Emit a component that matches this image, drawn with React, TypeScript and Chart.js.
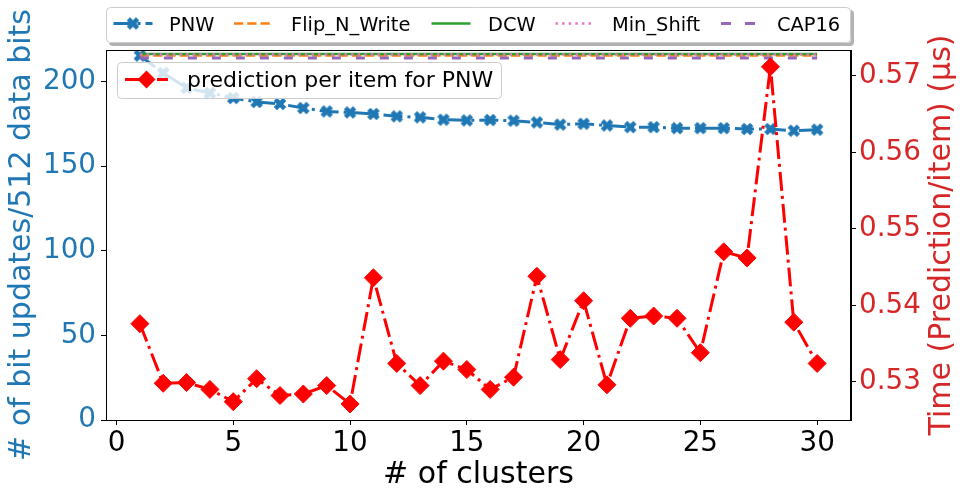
import React, { useEffect, useRef } from 'react';
import { Chart, registerables } from 'chart.js';

Chart.register(...registerables);

// ---------------- data ----------------
const clusters = [1, 2, 3, 4, 5, 6, 7, 8, 9, 10, 11, 12, 13, 14, 15, 16, 17, 18, 19, 20, 21, 22, 23, 24, 25, 26, 27, 28, 29, 30];
const pnw = [215.4, 205.1, 196.3, 193.3, 190.3, 188.0, 186.8, 184.4, 182.4, 181.8, 180.9, 179.5, 178.9, 177.5, 177.1, 177.3, 176.9, 175.9, 174.6, 175.1, 174.1, 173.1, 173.1, 172.5, 172.5, 172.5, 172.0, 172.0, 171.0, 171.6];
const flipNWrite = [215.4, 215.4, 215.4, 215.4, 215.4, 215.4, 215.4, 215.4, 215.4, 215.4, 215.4, 215.4, 215.4, 215.4, 215.4, 215.4, 215.4, 215.4, 215.4, 215.4, 215.4, 215.4, 215.4, 215.4, 215.4, 215.4, 215.4, 215.4, 215.4, 215.4];
const dcw = [216.4, 216.4, 216.4, 216.4, 216.4, 216.4, 216.4, 216.4, 216.4, 216.4, 216.4, 216.4, 216.4, 216.4, 216.4, 216.4, 216.4, 216.4, 216.4, 216.4, 216.4, 216.4, 216.4, 216.4, 216.4, 216.4, 216.4, 216.4, 216.4, 216.4];
const minShift = [216.0, 216.0, 216.0, 216.0, 216.0, 216.0, 216.0, 216.0, 216.0, 216.0, 216.0, 216.0, 216.0, 216.0, 216.0, 216.0, 216.0, 216.0, 216.0, 216.0, 216.0, 216.0, 216.0, 216.0, 216.0, 216.0, 216.0, 216.0, 216.0, 216.0];
const cap16 = [214.0, 214.0, 214.0, 214.0, 214.0, 214.0, 214.0, 214.0, 214.0, 214.0, 214.0, 214.0, 214.0, 214.0, 214.0, 214.0, 214.0, 214.0, 214.0, 214.0, 214.0, 214.0, 214.0, 214.0, 214.0, 214.0, 214.0, 214.0, 214.0, 214.0];
const predPerItem = [0.5376, 0.5298, 0.5299, 0.5290, 0.5274, 0.5304, 0.5282, 0.5284, 0.5295, 0.5271, 0.5436, 0.5324, 0.5295, 0.5327, 0.5316, 0.5290, 0.5306, 0.5438, 0.5329, 0.5406, 0.5296, 0.5383, 0.5386, 0.5383, 0.5338, 0.5470, 0.5462, 0.5712, 0.5378, 0.5324];

const xTicks = [0, 5, 10, 15, 20, 25, 30];
const leftTicks = [0, 50, 100, 150, 200];
const rightTicks = [0.53, 0.54, 0.55, 0.56, 0.57];
const rightTickLabels = ['0.53', '0.54', '0.55', '0.56', '0.57'];

const seriesNames = ['PNW', 'Flip_N_Write', 'DCW', 'Min_Shift', 'CAP16'];
const predName = 'prediction per item for PNW';
const xTitle = '# of clusters';
const leftTitle = '# of bit updates/512 data bits';
const rightTitle = 'Time (Prediction/item) (µs)';

// ---------------- styles ----------------
const FONT = "'DejaVu Sans', sans-serif";
const BLUE = '#1f77b4';
const ORANGE = '#ff7f0e';
const GREEN = '#2ca02c';
const PINK = '#e377c2';
const PURPLE = '#9467bd';
const RED = '#ff0000';
const AXRED = '#d62728';

const DASHDOT = [19, 5, 3, 5];
const DASHED = [9.25, 4];
const DOTTED = [2.5, 4.1];
const CAPDASH = [9, 15];

function makeXMarker(size: number, color: string) {
  const c = document.createElement('canvas');
  c.width = size;
  c.height = size;
  const g = c.getContext('2d')!;
  g.strokeStyle = color;
  g.lineWidth = size * 0.33;
  g.lineCap = 'butt';
  const p = size * 0.17;
  g.beginPath();
  g.moveTo(p, p);
  g.lineTo(size - p, size - p);
  g.moveTo(size - p, p);
  g.lineTo(p, size - p);
  g.stroke();
  return c;
}

function toPts(ys: number[]) {
  return clusters.map((x, i) => ({ x, y: ys[i] }));
}

function roundRect(ctx: CanvasRenderingContext2D, x: number, y: number, w: number, h: number, r: number) {
  ctx.beginPath();
  ctx.moveTo(x + r, y);
  ctx.lineTo(x + w - r, y);
  ctx.arcTo(x + w, y, x + w, y + r, r);
  ctx.lineTo(x + w, y + h - r);
  ctx.arcTo(x + w, y + h, x + w - r, y + h, r);
  ctx.lineTo(x + r, y + h);
  ctx.arcTo(x, y + h, x, y + h - r, r);
  ctx.lineTo(x, y + r);
  ctx.arcTo(x, y, x + r, y, r);
  ctx.closePath();
}

function sampleLine(ctx: CanvasRenderingContext2D, x0: number, x1: number, y: number, color: string, lw: number, dash: number[]) {
  ctx.save();
  ctx.strokeStyle = color;
  ctx.lineWidth = lw;
  ctx.setLineDash(dash);
  ctx.beginPath();
  ctx.moveTo(x0, y);
  ctx.lineTo(x1, y);
  ctx.stroke();
  ctx.restore();
}

export default function App() {
  const ref = useRef<HTMLCanvasElement | null>(null);

  useEffect(() => {
    const canvas = ref.current;
    if (!canvas) return;
    const xMarker = makeXMarker(14, BLUE);

    const decor = {
      id: 'decor',
      afterDraw(chart: any) {
        const ctx: CanvasRenderingContext2D = chart.ctx;
        const a = chart.chartArea;
        ctx.save();
        // frame
        ctx.strokeStyle = '#000';
        ctx.lineWidth = 1;
        ctx.setLineDash([]);
        ctx.strokeRect(Math.round(a.left) + 0.5, Math.round(a.top) + 0.5, Math.round(a.right - a.left) - 1, Math.round(a.bottom - a.top));

        // axis titles
        ctx.font = `30px ${FONT}`;
        ctx.textBaseline = 'alphabetic';
        ctx.textAlign = 'center';
        ctx.fillStyle = '#000';
        ctx.fillText(xTitle, (a.left + a.right) / 2, 483);

        const cy = (a.top + a.bottom) / 2;
        ctx.save();
        ctx.translate(30, cy);
        ctx.rotate(-Math.PI / 2);
        ctx.fillStyle = BLUE;
        ctx.fillText(leftTitle, 0, 0);
        ctx.restore();

        ctx.save();
        ctx.translate(950, cy);
        ctx.rotate(-Math.PI / 2);
        ctx.fillStyle = AXRED;
        ctx.fillText(rightTitle, 0, 0);
        ctx.restore();

        // top legend
        ctx.fillStyle = 'rgba(0,0,0,0.3)';
        roundRect(ctx, 109, 10, 745, 36, 4);
        ctx.fill();
        ctx.fillStyle = '#fff';
        roundRect(ctx, 106, 7, 745, 36, 4);
        ctx.fill();
        ctx.strokeStyle = '#cccccc';
        ctx.lineWidth = 1;
        roundRect(ctx, 106.5, 7.5, 744, 35, 4);
        ctx.stroke();

        const ly = 23.5;
        const sx = [113.5, 234, 431.5, 555.5, 721];
        const tx = [169, 291, 488, 612, 777];
        sampleLine(ctx, sx[0], sx[0] + 39, ly, BLUE, 3, DASHDOT);
        ctx.drawImage(xMarker, sx[0] + 19.5 - 7, ly - 7);
        sampleLine(ctx, sx[1], sx[1] + 39, ly, ORANGE, 2.5, DASHED);
        sampleLine(ctx, sx[2], sx[2] + 39, ly, GREEN, 2.5, []);
        sampleLine(ctx, sx[3], sx[3] + 39, ly, PINK, 2.5, DOTTED);
        sampleLine(ctx, sx[4], sx[4] + 39, ly, PURPLE, 3, [10, 14]);
        ctx.font = `19.4px ${FONT}`;
        ctx.textAlign = 'left';
        ctx.fillStyle = '#000';
        seriesNames.forEach((n, i) => ctx.fillText(n, tx[i], 30.5));

        // prediction legend
        ctx.fillStyle = 'rgba(255,255,255,0.8)';
        roundRect(ctx, 117, 62, 385, 37, 4);
        ctx.fill();
        ctx.strokeStyle = '#cccccc';
        roundRect(ctx, 117.5, 62.5, 384, 36, 4);
        ctx.stroke();
        sampleLine(ctx, 125, 168, 79.5, RED, 3, DASHDOT);
        ctx.fillStyle = RED;
        ctx.beginPath();
        ctx.moveTo(146.5, 79.5 - 9);
        ctx.lineTo(146.5 + 9, 79.5);
        ctx.lineTo(146.5, 79.5 + 9);
        ctx.lineTo(146.5 - 9, 79.5);
        ctx.closePath();
        ctx.fill();
        ctx.font = `22px ${FONT}`;
        ctx.fillStyle = '#000';
        ctx.fillText(predName, 187, 87);
        ctx.restore();
      },
    };

    const tickFont = { family: FONT, size: 27.8 };
    const gridCommon = { drawOnChartArea: false, drawTicks: true, tickLength: 5, color: '#000', tickColor: '#000', tickWidth: 1 };
    const border = { display: true, color: '#000', width: 1 };

    const chart = new Chart(canvas, {
      type: 'line',
      data: {
        datasets: [
          {
            label: predName, data: toPts(predPerItem), yAxisID: 'y2', borderColor: RED, borderWidth: 3,
            borderDash: DASHDOT, pointStyle: 'rectRot', pointRadius: 9, pointBackgroundColor: RED,
            pointBorderColor: RED, pointBorderWidth: 1, order: 0, tension: 0,
          },
          {
            label: seriesNames[4], data: toPts(cap16), yAxisID: 'y', borderColor: PURPLE, borderWidth: 3,
            borderDash: CAPDASH, pointRadius: 0, order: 1,
          },
          {
            label: seriesNames[3], data: toPts(minShift), yAxisID: 'y', borderColor: PINK, borderWidth: 2.5,
            borderDash: DOTTED, pointRadius: 0, order: 2,
          },
          {
            label: seriesNames[2], data: toPts(dcw), yAxisID: 'y', borderColor: GREEN, borderWidth: 2.5,
            pointRadius: 0, order: 3,
          },
          {
            label: seriesNames[1], data: toPts(flipNWrite), yAxisID: 'y', borderColor: ORANGE, borderWidth: 2.5,
            borderDash: DASHED, pointRadius: 0, order: 4,
          },
          {
            label: seriesNames[0], data: toPts(pnw), yAxisID: 'y', borderColor: BLUE, borderWidth: 3,
            borderDash: DASHDOT, pointStyle: xMarker as any, pointRadius: 7, pointBackgroundColor: BLUE,
            pointBorderColor: BLUE, order: 5,
          },
        ],
      } as any,
      options: {
        responsive: false,
        animation: false,
        devicePixelRatio: 1,
        events: [],
        layout: { padding: { top: 50, left: 0, right: 0, bottom: 0 } },
        plugins: { legend: { display: false }, tooltip: { enabled: false } },
        scales: {
          x: {
            type: 'linear', position: 'bottom', min: -0.45, max: 31.45,
            afterBuildTicks: (s: any) => { s.ticks = xTicks.map((v) => ({ value: v })); },
            afterFit: (s: any) => { s.height = 76; },
            ticks: { font: tickFont, color: '#000', padding: 2, maxRotation: 0, callback: (v: any) => String(v) },
            grid: gridCommon, border,
          },
          y: {
            type: 'linear', position: 'left', min: 0, max: 218.7,
            afterBuildTicks: (s: any) => { s.ticks = leftTicks.map((v) => ({ value: v })); },
            afterFit: (s: any) => { s.width = 106; },
            ticks: { font: tickFont, color: BLUE, padding: 5, callback: (v: any) => String(v) },
            grid: gridCommon, border,
          },
          y2: {
            type: 'linear', position: 'right', min: 0.525, max: 0.5734,
            afterBuildTicks: (s: any) => { s.ticks = rightTicks.map((v) => ({ value: v })); },
            afterFit: (s: any) => { s.width = 113; },
            ticks: { font: tickFont, color: AXRED, padding: 3, callback: (_v: any, i: number) => rightTickLabels[i] },
            grid: gridCommon, border,
          },
        },
      } as any,
      plugins: [decor],
    });

    return () => chart.destroy();
  }, []);

  return (
    <div style={{ position: 'absolute', left: 0, top: 0, width: 964, height: 496, background: '#fff' }}>
      <canvas ref={ref} width={964} height={496} style={{ display: 'block', width: 964, height: 496 }} />
    </div>
  );
}
